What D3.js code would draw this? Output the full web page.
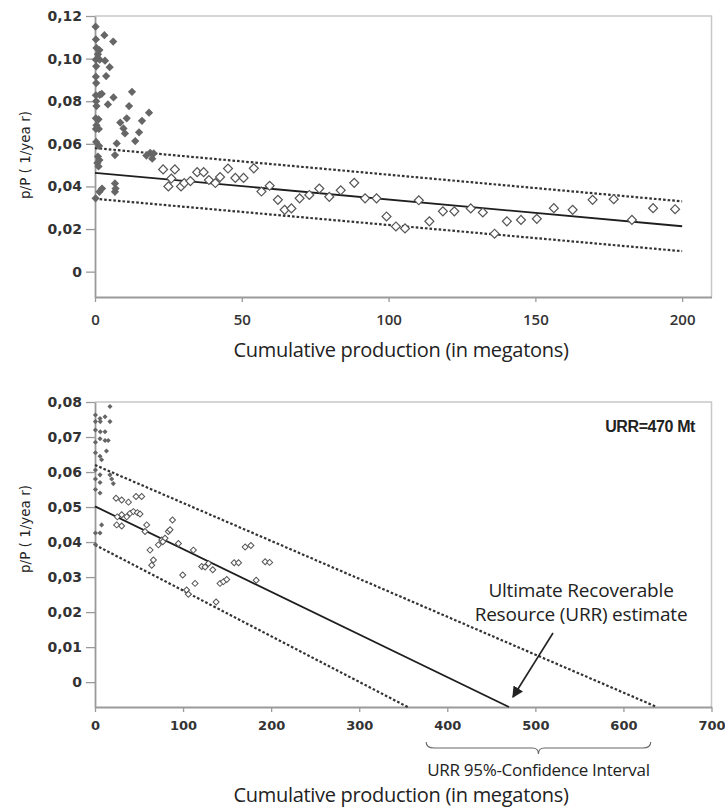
<!DOCTYPE html>
<html>
<head>
<meta charset="utf-8">
<script src="https://cdn.jsdelivr.net/npm/d3@7"></script>
<style>
  body { margin: 0; background: #fff; }
  svg { display: block; }
</style>
</head>
<body>
<div id="container"></div>
<script>
const W = 725, H = 812;

// ---- top panel data (cumulative production Mt, p/P) ----
const topXTicks = [0, 50, 100, 150, 200];
const topYTicks = [0, 0.02, 0.04, 0.06, 0.08, 0.10, 0.12];

const topFilled = [
  [0.2,0.115],[0.3,0.109],[3.2,0.111],[6.2,0.108],[0.5,0.105],[1.5,0.104],[1.0,0.102],
  [0.3,0.0995],[1.6,0.0995],[3.4,0.099],[5.0,0.096],[0.4,0.0964],[3.8,0.0918],[0.3,0.0915],
  [0.4,0.0885],[0.3,0.0828],[1.6,0.083],[2.3,0.0835],[6.3,0.0818],[0.4,0.080],[4.4,0.0785],
  [12.6,0.0844],[11.6,0.0777],[18.4,0.0746],[0.5,0.0777],[0.3,0.072],[1.2,0.0715],[10.8,0.072],
  [8.6,0.070],[9.7,0.0672],[16.0,0.0708],[0.5,0.0687],[0.3,0.067],[1.3,0.067],[15.0,0.0654],
  [10.2,0.0649],[13.7,0.0613],[0.4,0.0609],[7.4,0.0602],[6.8,0.0547],[1.0,0.054],[1.5,0.0524],
  [0.8,0.051],[1.2,0.0494],[18.8,0.0558],[20.0,0.0555],[19.5,0.053],[17.5,0.0545],[1.4,0.059],
  [6.8,0.0414],[7.0,0.039],[6.8,0.0375],[1.5,0.0375],[2.4,0.039],[0.2,0.0344]
];

const topOpen = [
  [23.2,0.048],[27.2,0.048],[25,0.040],[26,0.0437],[29.3,0.040],[30.4,0.0416],[32.5,0.0425],
  [34.8,0.0467],[37,0.0467],[38.8,0.043],[41,0.0416],[42.6,0.0444],[45.3,0.0484],[47.8,0.044],
  [50.6,0.044],[54.1,0.0485],[56.7,0.0376],[59.5,0.0403],[62.3,0.0337],[64.6,0.029],[66.9,0.0297],
  [69.7,0.0344],[73,0.036],[76.4,0.039],[79.8,0.0351],[83.7,0.0382],[88.3,0.0417],[92,0.0344],
  [95.9,0.0344],[99.3,0.0259],[102.5,0.0212],[105.6,0.0203],[110.3,0.0335],[113.9,0.0236],
  [118.5,0.0283],[122.4,0.0283],[128,0.0297],[132.1,0.0278],[136.1,0.0178],[140.3,0.0236],
  [145.1,0.0243],[150.5,0.0248],[156.3,0.0298],[162.7,0.029],[169.5,0.0337],[176.7,0.034],
  [182.9,0.0243],[190.1,0.0298],[197.6,0.0293]
];

const topFit   = [[0, 0.0464], [200, 0.0213]];
const topUpper = [[0, 0.0580], [200, 0.0330]];
const topLower = [[0, 0.0342], [200, 0.0096]];

// ---- bottom panel data ----
const botXTicks = [0, 100, 200, 300, 400, 500, 600, 700];
const botYTicks = [0, 0.01, 0.02, 0.03, 0.04, 0.05, 0.06, 0.07, 0.08];

const botFilled = [
  [17,0.0787],[0.5,0.0763],[5.7,0.0753],[11.4,0.0758],[17,0.0744],[0.5,0.0744],[6,0.0744],
  [0.5,0.072],[6,0.0715],[11.4,0.0715],[5.7,0.0695],[11.4,0.069],[15,0.069],[0.5,0.0685],
  [13,0.066],[0.5,0.0655],[5.7,0.0645],[7.5,0.0635],[0.5,0.0606],[5.7,0.0592],[0.5,0.058],
  [5.7,0.057],[17,0.0592],[19,0.058],[20.8,0.0567],[0.5,0.055],[5.7,0.054],[7.5,0.0449],
  [0.5,0.0426],[5.7,0.0426],[0.5,0.0393]
];

const botOpen = [
  [23.9,0.0525],[30.3,0.052],[38,0.0514],[46.6,0.053],[53,0.053],[25.4,0.0472],[30.3,0.0478],
  [36,0.0472],[39.8,0.0482],[43.6,0.0487],[48.1,0.0484],[51.1,0.048],[24.6,0.0449],[30.3,0.0446],
  [58.7,0.0449],[56.8,0.043],[62.5,0.0377],[66.3,0.0349],[64.4,0.0334],[72,0.0392],[75.8,0.0406],
  [79.5,0.0411],[83.3,0.043],[85.2,0.0435],[88,0.0463],[77,0.0401],[94.7,0.0396],[111.7,0.0377],
  [99.6,0.0306],[104,0.0263],[106,0.0251],[113.6,0.0282],[121.2,0.033],[125,0.0329],[128.8,0.0339],
  [133.7,0.0321],[142,0.0282],[145.8,0.0287],[149.6,0.0293],[137.5,0.0229],[158,0.0341],[163,0.0341],
  [170.5,0.0386],[177,0.039],[183,0.0291],[193.2,0.0344],[198.3,0.0342]
];

const botFit   = [[0, 0.0502], [470, -0.0071]];
const botUpper = [[0, 0.0620], [638, -0.0071]];
const botLower = [[0, 0.0392], [355, -0.0071]];

const urrValue = 470;
const braceRange = [376, 631];

const svg = d3.select("#container")
  .append("svg")
  .attr("width", W)
  .attr("height", H)
  .style("background", "#fff");

const fmtY = v => v === 0 ? "0" : d3.format(".2f")(v).replace(".", ",");

function drawPanel(p) {
  const x = d3.scaleLinear().domain(p.xDomain).range([95, 711.5]);
  const y = d3.scaleLinear().domain(p.yDomain).range(p.yRange);
  const g = svg.append("g");

  // plot frame (top + right light gray)
  g.append("path")
    .attr("d", `M${x.range()[0]},${y.range()[1]}H${x.range()[1]}V${y.range()[0]}`)
    .attr("fill", "none")
    .attr("stroke", "#c8c8c8")
    .attr("stroke-width", 1.5);

  // y axis
  const yAxis = g.append("g")
    .attr("transform", `translate(${x.range()[0]},0)`)
    .call(d3.axisLeft(y).tickValues(p.yTicks).tickSize(9).tickSizeOuter(0).tickPadding(4).tickFormat(fmtY));
  yAxis.select(".domain").attr("stroke", "#9a9a9a").attr("stroke-width", 1.8);
  yAxis.selectAll(".tick line").attr("stroke", "#9a9a9a").attr("stroke-width", 1.3);
  yAxis.selectAll(".tick text")
    .attr("fill", "#333")
    .style("font-family", "DejaVu Sans")
    .style("font-weight", "bold")
    .style("font-size", "14px");

  // x axis
  const xAxis = g.append("g")
    .attr("transform", `translate(0,${y.range()[0]})`)
    .call(d3.axisBottom(x).tickValues(p.xTicks).tickSize(5).tickSizeOuter(0).tickPadding(p.xPad).tickFormat(d3.format("d")));
  xAxis.select(".domain").attr("stroke", "#9a9a9a").attr("stroke-width", 2);
  xAxis.selectAll(".tick line").attr("stroke", "#9a9a9a").attr("stroke-width", 1.3);
  xAxis.selectAll(".tick text")
    .attr("fill", "#333")
    .style("font-family", p.xFont)
    .style("font-weight", p.xWeight)
    .style("font-size", p.xSize);

  // titles
  g.append("text")
    .attr("transform", `translate(25,${p.yTitleY}) rotate(-90)`)
    .attr("text-anchor", "middle")
    .attr("dominant-baseline", "central")
    .attr("fill", "#222")
    .style("font-family", "DejaVu Sans")
    .style("font-size", "13.5px")
    .text("p/P ( 1/yea r)");

  g.append("text")
    .attr("x", 401)
    .attr("y", p.xTitleY)
    .attr("text-anchor", "middle")
    .attr("fill", "#222")
    .style("font-family", "Open Sans")
    .style("font-size", "20px")
    .style("letter-spacing", "-0.3px")
    .text("Cumulative production (in megatons)");

  // trend lines
  const line = d3.line().x(d => x(d[0])).y(d => y(d[1]));
  g.append("path").datum(p.upper).attr("d", line)
    .attr("fill", "none").attr("stroke", "#333").attr("stroke-width", 2.2).attr("stroke-dasharray", "2.6,2");
  g.append("path").datum(p.lower).attr("d", line)
    .attr("fill", "none").attr("stroke", "#333").attr("stroke-width", 2.2).attr("stroke-dasharray", "2.6,2");
  g.append("path").datum(p.fit).attr("d", line)
    .attr("fill", "none").attr("stroke", "#1e1e1e").attr("stroke-width", 1.8);

  // markers: squares rotated 45deg
  const filledSym = d3.symbol().type(d3.symbolSquare).size(p.filledSize);
  const openSym = d3.symbol().type(d3.symbolSquare).size(p.openSize);

  g.append("g").selectAll("path")
    .data(p.open)
    .join("path")
    .attr("d", openSym)
    .attr("transform", d => `translate(${x(d[0])},${y(d[1])}) rotate(45)`)
    .attr("fill", "#fff")
    .attr("stroke", "#555")
    .attr("stroke-width", p.openStroke);

  g.append("g").selectAll("path")
    .data(p.filled)
    .join("path")
    .attr("d", filledSym)
    .attr("transform", d => `translate(${x(d[0])},${y(d[1])}) rotate(45)`)
    .attr("fill", "#666");

  return { x, y, g };
}

drawPanel({
  xDomain: [0, 210], yDomain: [-0.0119, 0.12], yRange: [297, 16],
  xTicks: topXTicks, yTicks: topYTicks,
  filled: topFilled, open: topOpen,
  fit: topFit, upper: topUpper, lower: topLower,
  filledSize: 34, openSize: 40, openStroke: 1.2,
  xPad: 12, xFont: "Open Sans", xWeight: "600", xSize: "15px",
  yTitleY: 155, xTitleY: 357
});

const bot = drawPanel({
  xDomain: [0, 700], yDomain: [-0.0071, 0.08], yRange: [707, 402],
  xTicks: botXTicks, yTicks: botYTicks,
  filled: botFilled, open: botOpen,
  fit: botFit, upper: botUpper, lower: botLower,
  filledSize: 13, openSize: 18, openStroke: 1,
  xPad: 9, xFont: "DejaVu Sans", xWeight: "bold", xSize: "13px",
  yTitleY: 529, xTitleY: 802
});

// annotations for bottom panel
bot.g.append("text")
  .attr("x", 695).attr("y", 432)
  .attr("text-anchor", "end")
  .attr("fill", "#222")
  .style("font-family", "Liberation Sans")
  .style("font-weight", "bold")
  .style("font-size", "16px")
  .style("letter-spacing", "-0.4px")
  .text("URR=470 Mt");

const noteLines = ["Ultimate Recoverable", "Resource (URR) estimate"];
bot.g.append("g").selectAll("text")
  .data(noteLines)
  .join("text")
  .attr("x", 581)
  .attr("y", (d, i) => 597 + i * 24)
  .attr("text-anchor", "middle")
  .attr("fill", "#222")
  .style("font-family", "Open Sans")
  .style("font-size", "19px")
  .style("letter-spacing", "-0.2px")
  .text(d => d);

svg.append("defs").append("marker")
  .attr("id", "arrow")
  .attr("viewBox", "0 0 10 10")
  .attr("refX", 9).attr("refY", 5)
  .attr("markerWidth", 7).attr("markerHeight", 7)
  .attr("orient", "auto")
  .append("path")
  .attr("d", "M0,0L10,5L0,10z")
  .attr("fill", "#222");

const ax = bot.x(urrValue), ay = bot.y.range()[0];
bot.g.append("line")
  .attr("x1", 553).attr("y1", 633)
  .attr("x2", ax + 4).attr("y2", ay - 10)
  .attr("stroke", "#222")
  .attr("stroke-width", 1.6)
  .attr("marker-end", "url(#arrow)");

// confidence-interval brace
const bx0 = bot.x(braceRange[0]), bx1 = bot.x(braceRange[1]), bxm = (bx0 + bx1) / 2;
const by = 742;
bot.g.append("path")
  .attr("d", `M${bx0},${by} Q${bx0},${by + 6} ${bx0 + 8},${by + 6} L${bxm - 6},${by + 6} Q${bxm},${by + 6} ${bxm},${by + 12}
              Q${bxm},${by + 6} ${bxm + 6},${by + 6} L${bx1 - 8},${by + 6} Q${bx1},${by + 6} ${bx1},${by}`)
  .attr("fill", "none")
  .attr("stroke", "#666")
  .attr("stroke-width", 1.1);

bot.g.append("text")
  .attr("x", bxm).attr("y", 776)
  .attr("text-anchor", "middle")
  .attr("fill", "#222")
  .style("font-family", "Open Sans")
  .style("font-size", "17px")
  .style("letter-spacing", "-0.3px")
  .text("URR 95%-Confidence Interval");
</script>
</body>
</html>
